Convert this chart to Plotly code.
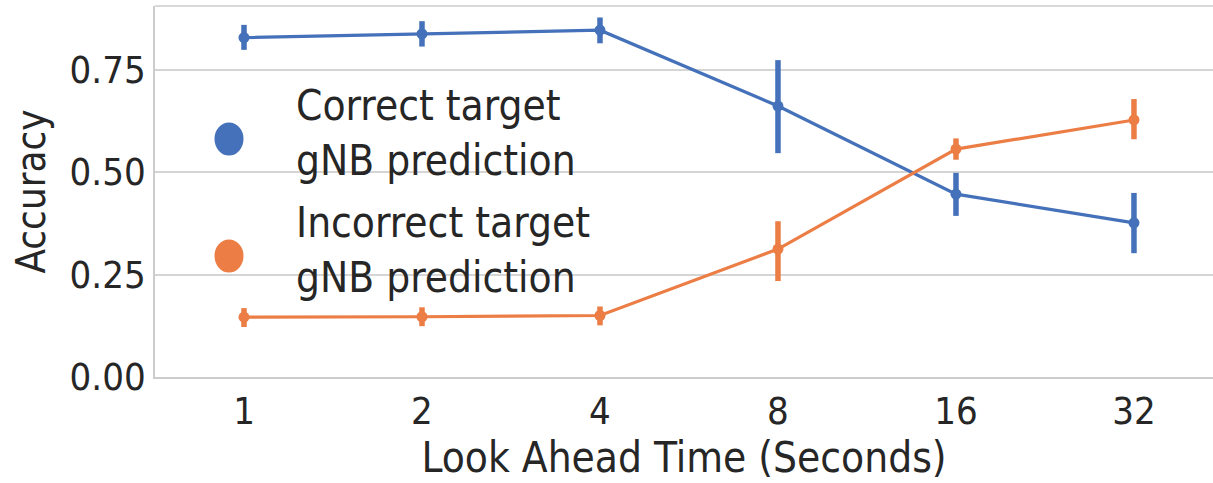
import plotly.graph_objects as go

categories = ["1", "2", "4", "8", "16", "32"]
series_names = ["Correct target<br>gNB prediction", "Incorrect target<br>gNB prediction"]

correct_mean = [0.828, 0.837, 0.846, 0.661, 0.446, 0.376]
correct_low = [0.798, 0.806, 0.814, 0.546, 0.393, 0.302]
correct_high = [0.859, 0.868, 0.877, 0.773, 0.498, 0.449]

incorrect_mean = [0.146, 0.147, 0.150, 0.312, 0.556, 0.627]
incorrect_low = [0.122, 0.124, 0.126, 0.234, 0.530, 0.580]
incorrect_high = [0.168, 0.170, 0.172, 0.380, 0.582, 0.678]

BLUE = "#4471B9"
ORANGE = "#EB7D45"
FONT = "DejaVu Sans Condensed, DejaVu Sans"

fig = go.Figure()
x_idx = list(range(len(categories)))

for name, mean, lo, hi, col in [
    (series_names[0], correct_mean, correct_low, correct_high, BLUE),
    (series_names[1], incorrect_mean, incorrect_low, incorrect_high, ORANGE),
]:
    fig.add_trace(go.Scatter(
        x=x_idx, y=mean, name=name, mode="lines+markers",
        line=dict(color=col, width=3.2),
        marker=dict(color=col, size=11, symbol="circle"),
        error_y=dict(type="data", symmetric=False,
                     array=[h - m for h, m in zip(hi, mean)],
                     arrayminus=[m - l for m, l in zip(mean, lo)],
                     color=col, thickness=5.5, width=0),
        showlegend=False,
    ))

PW = 1058
PH = 371
legend_items = [(series_names[0], BLUE, (377 - 139) / PH), (series_names[1], ORANGE, (377 - 256) / PH)]
for text, col, yp in legend_items:
    fig.add_shape(type="circle", xref="paper", yref="paper",
                  x0=(229 - 155 - 14.5) / PW, x1=(229 - 155 + 14.5) / PW,
                  y0=yp - 16.5 / PH, y1=yp + 16.5 / PH,
                  fillcolor=col, line=dict(color=col, width=0))
    fig.add_annotation(xref="paper", yref="paper", x=(294 - 155) / PW, y=yp + 6 / PH,
                       text=text, showarrow=False, xanchor="left", yanchor="middle",
                       align="left", font=dict(family=FONT, size=42, color="#262626"))

# top spine (no right spine in the reference crop)
fig.add_shape(type="line", xref="paper", yref="paper", x0=0, x1=1.02, y0=1, y1=1,
              line=dict(color="#cccccc", width=1.5), layer="below")

fig.update_layout(
    width=1213, height=483,
    margin=dict(l=155, r=0, t=6, b=106, autoexpand=False),
    paper_bgcolor="white", plot_bgcolor="white",
    font=dict(family=FONT, size=38, color="#262626"),
    xaxis=dict(
        tickmode="array", tickvals=x_idx, ticktext=categories,
        range=[-0.5, 5.444], showgrid=False, zeroline=False, automargin=False,
        showline=True, mirror=False, linecolor="#cccccc", linewidth=1.5,
        ticks="", tickfont=dict(size=38),
        title=dict(text="Look Ahead Time (Seconds)", font=dict(size=42), standoff=8),
    ),
    yaxis=dict(
        range=[0, 0.905], tickvals=[0, 0.25, 0.5, 0.75],
        ticktext=["0.00", "0.25", "0.50", "0.75"], automargin=False,
        showgrid=True, gridcolor="#d5d5d5", gridwidth=1.5, zeroline=False,
        showline=True, linecolor="#cccccc", linewidth=1.5,
        ticks="", tickfont=dict(size=38),
        title=dict(text="Accuracy", font=dict(size=40), standoff=12),
    ),
)

fig.write_html("out.html", config={"displayModeBar": False},
               post_script="document.body.style.margin='0';document.body.style.overflow='hidden';"
                           "document.documentElement.style.overflow='hidden';")
